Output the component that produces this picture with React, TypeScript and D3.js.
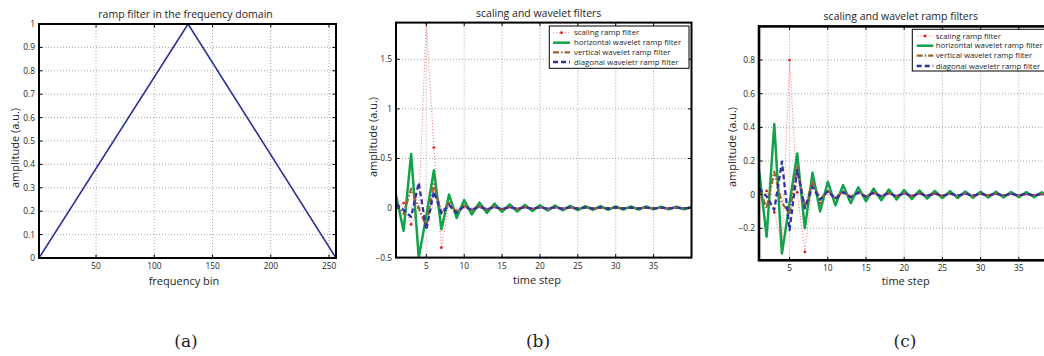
import React from 'react';
import * as d3 from 'd3';

// ---------- data ----------
const freqBins = [1, 129, 256];
const rampAmplitude = [0, 1, 0];
const freqTicks = [50, 100, 150, 200, 250];
const rampYTicks = [0, 0.1, 0.2, 0.3, 0.4, 0.5, 0.6, 0.7, 0.8, 0.9, 1];

const timeSteps = [1, 2, 3, 4, 5, 6, 7, 8, 9, 10, 11, 12, 13, 14, 15, 16, 17, 18, 19, 20,
  21, 22, 23, 24, 25, 26, 27, 28, 29, 30, 31, 32, 33, 34, 35, 36, 37, 38, 39, 40];
const timeTicks = [5, 10, 15, 20, 25, 30, 35];

const scalingB = [0, 0.05, -0.165, 0, 1.87, 0.61, -0.40, 0.05, -0.03, 0.02, -0.02, 0.015, -0.015, 0.012, -0.012, 0.01,
  -0.01, 0.009, -0.009, 0.008, -0.008, 0.007, -0.007, 0.007, -0.006, 0.006, -0.006, 0.005, -0.005, 0.005,
  -0.005, 0.004, -0.004, 0.004, -0.004, 0.004, -0.003, 0.003, -0.003, 0.003];
const horizontalB = [0.13, -0.23, 0.545, -0.5, -0.08, 0.38, -0.215, 0.135, -0.10, 0.08, -0.065, 0.055, -0.05, 0.045,
  -0.04, 0.037, -0.035, 0.032, -0.03, 0.028, -0.026, 0.025, -0.023, 0.022, -0.021, 0.02, -0.019, 0.018, -0.018,
  0.017, -0.016, 0.016, -0.015, 0.015, -0.014, 0.014, -0.013, 0.013, -0.012, 0.012];
const verticalB = [0.045, -0.06, 0.195, 0.0, -0.19, 0.24, -0.05, 0.05, -0.04, 0.025, -0.02, 0.015, -0.015, 0.012,
  -0.012, 0.01, -0.01, 0.009, -0.009, 0.008, -0.008, 0.007, -0.007, 0.007, -0.006, 0.006, -0.006, 0.005, -0.005,
  0.005, -0.005, 0.005, -0.004, 0.004, -0.004, 0.004, -0.004, 0.004, -0.003, 0.003];
const diagonalB = [0.045, -0.02, -0.09, 0.255, -0.22, 0.165, -0.055, 0.03, -0.05, 0.02, -0.02, 0.015, -0.015, 0.012,
  -0.012, 0.01, -0.01, 0.01, -0.009, 0.009, -0.008, 0.008, -0.008, 0.007, -0.007, 0.007, -0.006, 0.006, -0.006,
  0.006, -0.005, 0.005, -0.005, 0.005, -0.005, 0.004, -0.004, 0.004, -0.004, 0.004];

const scalingC = [-0.016, 0.022, -0.105, -0.30, 0.80, 0.014, -0.34, 0.06, -0.05, 0.02, -0.02, 0.015, -0.015, 0.012,
  -0.012, 0.01, -0.01, 0.009, -0.009, 0.008, -0.008, 0.008, -0.007, 0.007, -0.007, 0.006, -0.006, 0.006, -0.006,
  0.005, -0.005, 0.005, -0.005, 0.005, -0.004, 0.004, -0.004, 0.004, -0.004, 0.004];
const horizontalC = [0.147, -0.25, 0.42, -0.35, -0.05, 0.245, -0.20, 0.13, -0.10, 0.077, -0.063, 0.057, -0.05, 0.044,
  -0.038, 0.036, -0.033, 0.031, -0.029, 0.027, -0.026, 0.025, -0.023, 0.022, -0.021, 0.021, -0.02, 0.019, -0.018,
  0.018, -0.017, 0.017, -0.016, 0.016, -0.015, 0.015, -0.015, 0.014, -0.014, 0.014];
const verticalC = [0.038, -0.08, 0.137, -0.05, -0.11, 0.167, -0.08, 0.077, -0.03, 0.024, -0.02, 0.018, -0.015, 0.014,
  -0.012, 0.012, -0.011, 0.01, -0.01, 0.009, -0.009, 0.009, -0.008, 0.008, -0.008, 0.007, -0.007, 0.007, -0.007,
  0.006, -0.006, 0.006, -0.006, 0.006, -0.005, 0.005, -0.005, 0.005, -0.005, 0.005];
const diagonalC = [0.038, -0.01, -0.09, 0.196, -0.21, 0.147, -0.08, 0.047, -0.03, 0.02, -0.025, 0.015, -0.015, 0.013,
  -0.012, 0.011, -0.01, 0.01, -0.01, 0.009, -0.009, 0.009, -0.008, 0.008, -0.008, 0.007, -0.007, 0.007, -0.007,
  0.006, -0.006, 0.006, -0.006, 0.006, -0.005, 0.005, -0.005, 0.005, -0.005, 0.005];

const legendLabels = ['scaling ramp filter', 'horizontal wavelet ramp filter', 'vertical wavelet ramp filter',
  'diagonal waveletr ramp filter'];
const yTicksB = [-0.5, 0, 0.5, 1, 1.5];
const yTicksC = [-0.2, 0, 0.2, 0.4, 0.6, 0.8];

// ---------- styles ----------
const FONT = "'Open Sans', 'Noto Sans', sans-serif";
const TEXT = '#1e1e1e';
const seriesStyles = [
  { color: '#ff7474', width: 1.1, dash: '1,2', marker: '#e51515' },
  { color: '#12a24a', width: 2.5, dash: undefined, marker: undefined },
  { color: '#9c6430', width: 2.2, dash: '6,2,1.5,2', marker: undefined },
  { color: '#3232a8', width: 2.3, dash: '5,3', marker: undefined },
];

const fmt = (v: number) => d3.format('')(v).replace('-', '\u2212');

type Series = { xs: number[]; ys: number[]; style: any };

function Panel(props: any) {
  const { id, xDomain, xRange, yDomain, yRange, xTicks, yTicks, series, title, titleX, titleY,
    xLabel, xLabelX, xLabelY, yLabel, yLabelX, yLabelY, frameW, legend } = props;
  const xs = d3.scaleLinear().domain(xDomain).range(xRange);
  const ys = d3.scaleLinear().domain(yDomain).range(yRange);
  const [x0, x1] = xRange;
  const [yb, yt] = yRange;
  const tl = 3.5;
  const line = d3.line<[number, number]>().x(d => xs(d[0])).y(d => ys(d[1]));
  return (
    <g>
      <defs>
        <clipPath id={`clip-${id}`}>
          <rect x={x0} y={yt} width={x1 - x0} height={yb - yt} />
        </clipPath>
      </defs>
      <rect x={x0} y={yt} width={x1 - x0} height={yb - yt} fill="#fff" />
      {xTicks.map((t: number) => (
        <line key={`gx${t}`} x1={xs(t)} x2={xs(t)} y1={yt} y2={yb} stroke="#8f8f8f" strokeWidth={0.8} strokeDasharray="1,2" />
      ))}
      {yTicks.map((t: number) => (
        <line key={`gy${t}`} x1={x0} x2={x1} y1={ys(t)} y2={ys(t)} stroke="#8f8f8f" strokeWidth={0.8} strokeDasharray="1,2" />
      ))}
      <g clipPath={`url(#clip-${id})`}>
        {series.map((s: Series, i: number) => {
          const pts = s.xs.map((x, k) => [x, s.ys[k]] as [number, number]);
          return (
            <g key={i}>
              <path d={line(pts) || ''} fill="none" stroke={s.style.color} strokeWidth={s.style.width}
                strokeDasharray={s.style.dash} strokeLinejoin="round" />
              {s.style.marker && pts.map((p, k) => (
                <circle key={k} cx={xs(p[0])} cy={ys(p[1])} r={1.4} fill={s.style.marker} />
              ))}
            </g>
          );
        })}
      </g>
      {xTicks.map((t: number) => (
        <g key={`tx${t}`}>
          <line x1={xs(t)} x2={xs(t)} y1={yb} y2={yb - tl} stroke="#000" strokeWidth={1} />
          <line x1={xs(t)} x2={xs(t)} y1={yt} y2={yt + tl} stroke="#000" strokeWidth={1} />
          <text x={xs(t)} y={yb + 11} textAnchor="middle" fontSize={8.3} fontFamily={FONT} fill={TEXT}>{fmt(t)}</text>
        </g>
      ))}
      {yTicks.map((t: number) => (
        <g key={`ty${t}`}>
          <line x1={x0} x2={x0 + tl} y1={ys(t)} y2={ys(t)} stroke="#000" strokeWidth={1} />
          <line x1={x1} x2={x1 - tl} y1={ys(t)} y2={ys(t)} stroke="#000" strokeWidth={1} />
          <text x={x0 - 4} y={ys(t) + 3} textAnchor="end" fontSize={8.3} fontFamily={FONT} fill={TEXT}>{fmt(t)}</text>
        </g>
      ))}
      <rect x={x0} y={yt} width={x1 - x0} height={yb - yt} fill="none" stroke="#000" strokeWidth={frameW} />
      {legend && (
        <g>
          <rect x={legend.x} y={legend.y} width={legend.w} height={legend.h} fill="#fff" stroke="#000" strokeWidth={1} />
          {legendLabels.map((lab, i) => {
            const st = seriesStyles[i];
            const ly = legend.rows[i];
            return (
              <g key={lab}>
                <line x1={legend.lx0} x2={legend.lx1} y1={ly} y2={ly} stroke={st.color} strokeWidth={st.width}
                  strokeDasharray={st.dash} />
                {st.marker && <circle cx={(legend.lx0 + legend.lx1) / 2} cy={ly} r={1.4} fill={st.marker} />}
                <text x={legend.tx} y={ly + 2.7} fontSize={7.8} fontFamily={FONT} fill={TEXT}>{lab}</text>
              </g>
            );
          })}
        </g>
      )}
      <text x={titleX} y={titleY} textAnchor="middle" fontSize={10.5} fontFamily={FONT} fill={TEXT}>{title}</text>
      <text x={xLabelX} y={xLabelY} textAnchor="middle" fontSize={11} fontFamily={FONT} fill={TEXT}>{xLabel}</text>
      <text transform={`translate(${yLabelX},${yLabelY}) rotate(-90)`} textAnchor="middle" fontSize={11}
        fontFamily={FONT} fill={TEXT}>{yLabel}</text>
    </g>
  );
}

export default function App() {
  const seriesB: Series[] = [scalingB, horizontalB, verticalB, diagonalB].map((ys, i) => ({ xs: timeSteps, ys, style: seriesStyles[i] }));
  const seriesC: Series[] = [scalingC, horizontalC, verticalC, diagonalC].map((ys, i) => ({ xs: timeSteps, ys, style: seriesStyles[i] }));
  const capFont = "'DejaVu Serif', 'Liberation Serif', serif";
  return (
    <svg width={1044} height={356} style={{ position: 'absolute', left: 0, top: 0, background: '#fff' }}>
      <rect x={0} y={0} width={1044} height={356} fill="#fff" />
      <Panel id="a" xDomain={[1, 256]} xRange={[39, 336]} yDomain={[0, 1]} yRange={[258, 24]}
        xTicks={freqTicks} yTicks={rampYTicks}
        series={[{ xs: freqBins, ys: rampAmplitude, style: { color: '#2e3192', width: 1.6 } }]}
        title="ramp filter in the frequency domain" titleX={185.5} titleY={17.5}
        xLabel="frequency bin" xLabelX={184} xLabelY={284.5}
        yLabel="amplitude (a.u.)" yLabelX={19} yLabelY={148} frameW={2} />
      <Panel id="b" xDomain={[1, 40]} xRange={[396, 691.5]} yDomain={[-0.5, 1.87]} yRange={[257.6, 22.6]}
        xTicks={timeTicks} yTicks={yTicksB} series={seriesB}
        title="scaling and wavelet filters" titleX={538.7} titleY={17}
        xLabel="time step" xLabelX={537} xLabelY={284}
        yLabel="amplitude (a.u.)" yLabelX={377} yLabelY={137} frameW={2}
        legend={{ x: 549.3, y: 26, w: 139.7, h: 42.3, lx0: 553, lx1: 570, tx: 574, rows: [32.7, 42.7, 52.3, 62] }} />
      <Panel id="c" xDomain={[1, 40]} xRange={[759, 1057]} yDomain={[-0.39, 1.0]} yRange={[260.3, 26.4]}
        xTicks={timeTicks} yTicks={yTicksC} series={seriesC}
        title="scaling and wavelet ramp filters" titleX={900.8} titleY={19.5}
        xLabel="time step" xLabelX={905.7} xLabelY={285}
        yLabel="amplitude (a.u.)" yLabelX={736} yLabelY={147} frameW={2.6}
        legend={{ x: 912.3, y: 29.3, w: 150, h: 41.7, lx0: 916.7, lx1: 933.3, tx: 935.7, rows: [36, 45.7, 55.7, 66] }} />
      <text x={186} y={347} textAnchor="middle" fontSize={17} fontFamily={capFont} fill={TEXT}>(a)</text>
      <text x={538} y={347} textAnchor="middle" fontSize={17} fontFamily={capFont} fill={TEXT}>(b)</text>
      <text x={905} y={347} textAnchor="middle" fontSize={17} fontFamily={capFont} fill={TEXT}>(c)</text>
    </svg>
  );
}
